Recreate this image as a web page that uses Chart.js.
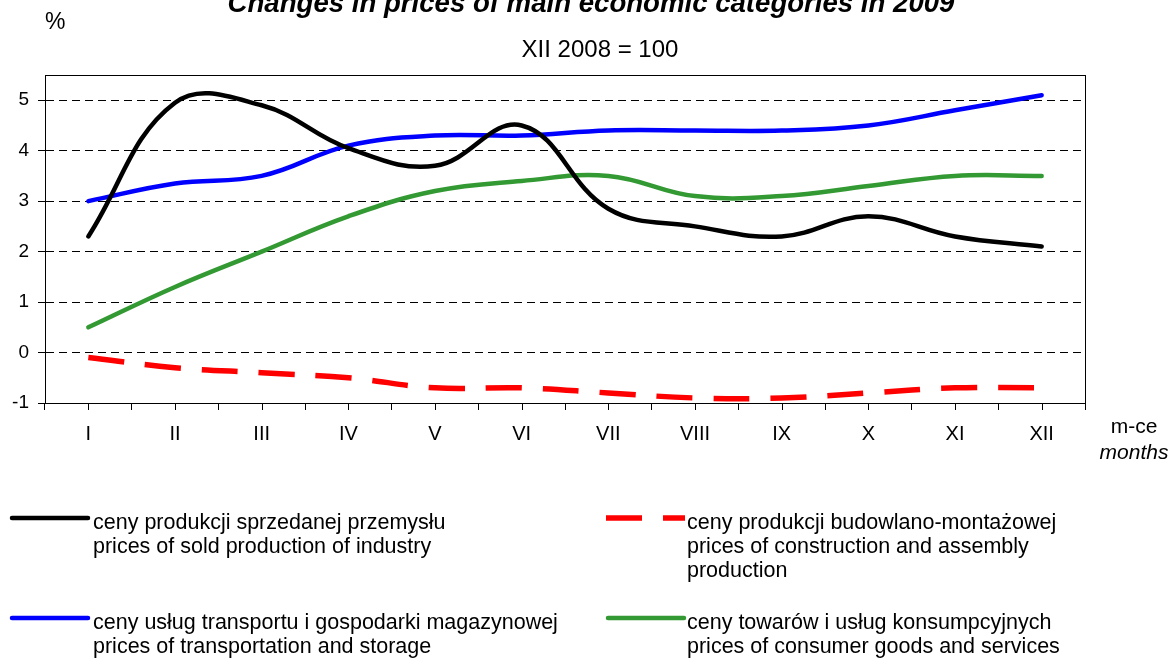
<!DOCTYPE html>
<html>
<head>
<meta charset="utf-8">
<script src="https://cdn.jsdelivr.net/npm/chart.js@4"></script>
<style>
  body { margin: 0; background: #fff; overflow: hidden; }
  #wrap { position: relative; width: 1176px; height: 659px; font-family: "Liberation Sans", Arial, sans-serif; color: #000; }
  #c { position: absolute; left: 0; top: 0; }
  .lbl { position: absolute; white-space: nowrap; line-height: 1; }
  .leg { position: absolute; font-size: 21.5px; line-height: 24px; white-space: nowrap; }
  svg.sample { position: absolute; left: 0; top: 0; overflow: visible; }
</style>
</head>
<body>
<div id="wrap">
  <canvas id="c" width="1176" height="659"></canvas>
  <div class="lbl" id="title" style="left:591px; top:-11px; font-size:27.6px; font-weight:bold; font-style:italic; transform:translateX(-50%);"></div>
  <div class="lbl" id="subtitle" style="left:600px; top:37px; font-size:24px; transform:translateX(-50%);"></div>
  <div class="lbl" style="left:45px; top:10px; font-size:23px;">%</div>
  <div class="lbl" style="left:1134px; top:415px; font-size:21px; transform:translateX(-50%);">m-ce</div>
  <div class="lbl" style="left:1134px; top:441px; font-size:21px; font-style:italic; transform:translateX(-50%);">months</div>
  <svg class="sample" width="1176" height="659" id="samples"></svg>
</div>
<script>
const titleText = 'Changes in prices of main economic categories in 2009';
const subtitleText = 'XII 2008 = 100';

const months = ['I', 'II', 'III', 'IV', 'V', 'VI', 'VII', 'VIII', 'IX', 'X', 'XI', 'XII'];
const yTicks = [-1, 0, 1, 2, 3, 4, 5];

const industry = [2.3, 4.95, 4.9, 4.05, 3.7, 4.5, 2.85, 2.5, 2.3, 2.7, 2.3, 2.1];
const construction = [-0.1, -0.3, -0.4, -0.5, -0.7, -0.7, -0.8, -0.9, -0.9, -0.8, -0.7, -0.7];
const transport = [3.0, 3.35, 3.5, 4.1, 4.3, 4.3, 4.4, 4.4, 4.4, 4.5, 4.8, 5.1];
const consumer = [0.5, 1.3, 2.0, 2.7, 3.2, 3.4, 3.5, 3.1, 3.1, 3.3, 3.5, 3.5];

const industryLabel = ['ceny produkcji sprzedanej przemysłu', 'prices of sold production of industry'];
const constructionLabel = ['ceny produkcji budowlano-montażowej', 'prices of construction and assembly', 'production'];
const transportLabel = ['ceny usług transportu i gospodarki magazynowej', 'prices of transportation and storage'];
const consumerLabel = ['ceny towarów i usług konsumpcyjnych', 'prices of consumer goods and services'];

document.getElementById('title').textContent = titleText;
document.getElementById('subtitle').textContent = subtitleText;

// legend (HTML text + svg line samples)
const wrap = document.getElementById('wrap');
const svg = document.getElementById('samples');
const legendItems = [
  { lines: industryLabel, color: '#000', x1: 12, x2: 88, y: 518, w: 4.5, dash: null, tx: 93, ty: 510 },
  { lines: constructionLabel, color: '#ff0000', x1: 606, x2: 685, y: 518, w: 5.5, dash: '36 21', tx: 687, ty: 510 },
  { lines: transportLabel, color: '#0000ff', x1: 12, x2: 88, y: 618, w: 4.5, dash: null, tx: 93, ty: 610 },
  { lines: consumerLabel, color: '#339933', x1: 608, x2: 684, y: 618, w: 4.5, dash: null, tx: 687, ty: 610 },
];
legendItems.forEach(it => {
  const ln = document.createElementNS('http://www.w3.org/2000/svg', 'line');
  ln.setAttribute('x1', it.x1); ln.setAttribute('x2', it.x2);
  ln.setAttribute('y1', it.y); ln.setAttribute('y2', it.y);
  ln.setAttribute('stroke', it.color);
  ln.setAttribute('stroke-width', it.w);
  if (it.dash) ln.setAttribute('stroke-dasharray', it.dash);
  else ln.setAttribute('stroke-linecap', 'round');
  svg.appendChild(ln);
  const d = document.createElement('div');
  d.className = 'leg';
  d.style.left = it.tx + 'px';
  d.style.top = it.ty + 'px';
  d.innerHTML = it.lines.join('<br>');
  wrap.appendChild(d);
});

const frame = {
  id: 'frame',
  afterDraw(chart) {
    const { ctx, chartArea: a, scales: { x } } = chart;
    ctx.save();
    ctx.strokeStyle = '#000';
    ctx.lineWidth = 1;
    ctx.strokeRect(Math.round(a.left) + 0.5, Math.round(a.top) + 0.5,
      Math.round(a.right - a.left), Math.round(a.bottom - a.top));
    // tick marks under each month (between-category ticks come from the grid)
    ctx.beginPath();
    months.forEach((m, i) => {
      const px = Math.round(x.getPixelForValue(i)) + 0.5;
      ctx.moveTo(px, a.bottom);
      ctx.lineTo(px, a.bottom + 7);
    });
    ctx.stroke();
    ctx.restore();
  },
};

const fontFam = '"Liberation Sans", Arial, sans-serif';

new Chart(document.getElementById('c'), {
  type: 'line',
  data: {
    labels: months,
    datasets: [
      { data: industry, borderColor: '#000000', borderWidth: 4.5, borderCapStyle: 'round' },
      { data: construction, borderColor: '#ff0000', borderWidth: 5.5, borderDash: [36, 21] },
      { data: transport, borderColor: '#0000ff', borderWidth: 4.5, borderCapStyle: 'round' },
      { data: consumer, borderColor: '#339933', borderWidth: 4.5, borderCapStyle: 'round' },
    ],
  },
  options: {
    responsive: false,
    devicePixelRatio: 1,
    animation: false,
    layout: { padding: { left: 0, top: 75, right: 91, bottom: 196 } },
    elements: {
      line: { tension: 0.4, fill: false, borderJoinStyle: 'round' },
      point: { radius: 0, hoverRadius: 0 },
    },
    scales: {
      x: {
        offset: true,
        afterFit: (s) => { s.height = 60; },
        grid: { offset: true, drawOnChartArea: false, drawTicks: true, tickLength: 7, color: '#000' },
        border: { display: true, color: '#000' },
        ticks: { color: '#000', padding: 12, font: { family: fontFam, size: 20 }, maxRotation: 0, autoSkip: false },
      },
      y: {
        min: -1,
        max: 5.5,
        afterFit: (s) => { s.width = 45; },
        afterBuildTicks: (s) => { s.ticks = yTicks.map(v => ({ value: v })); },
        grid: { color: '#000', tickLength: 7, lineWidth: 1 },
        border: { display: true, color: '#000', dash: [8, 5] },
        ticks: { color: '#000', padding: 9, font: { family: fontFam, size: 19 } },
      },
    },
    plugins: {
      legend: { display: false },
      tooltip: { enabled: false },
    },
  },
  plugins: [frame],
});
</script>
</body>
</html>
